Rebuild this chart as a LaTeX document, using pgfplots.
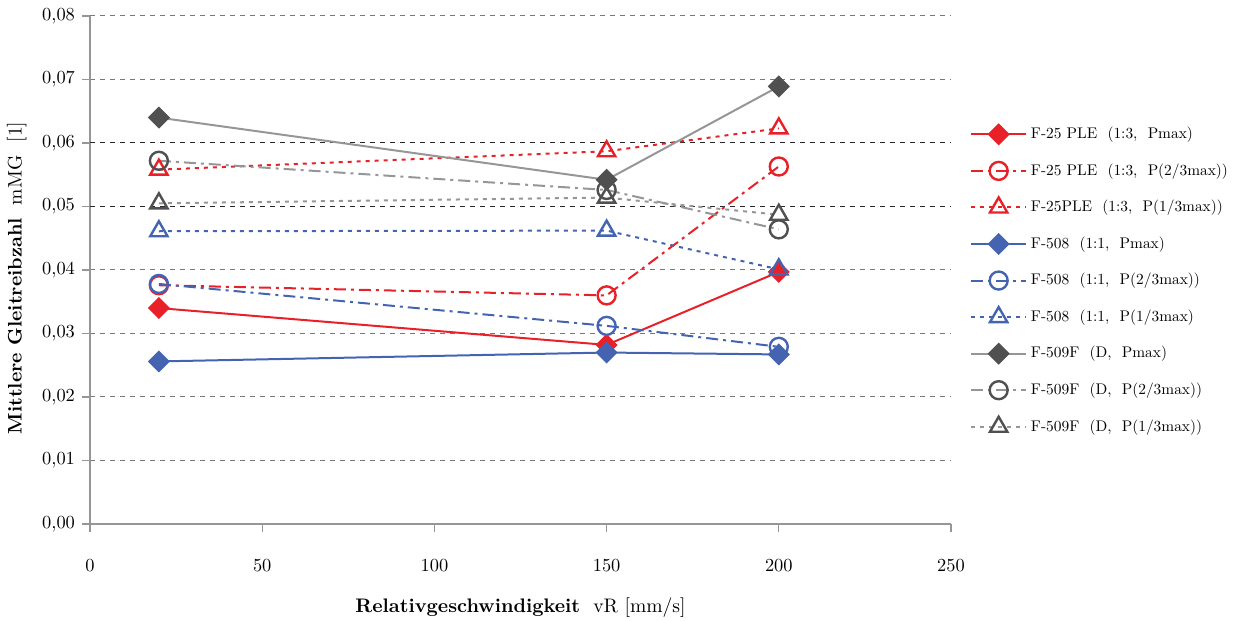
\documentclass[border=0pt]{standalone}
\usepackage{fontspec}
\setmainfont{lmroman10-regular}[Extension=.otf, BoldFont=lmroman10-bold]
\usepackage{pgfplots}
\pgfplotsset{compat=1.18}
\definecolor{cred}{RGB}{232,32,40}
\definecolor{cblue}{RGB}{68,100,178}
\definecolor{cgline}{RGB}{150,150,150}
\definecolor{cgmark}{RGB}{80,80,80}
\definecolor{cgrid}{RGB}{120,120,120}
\begin{document}
\begin{tikzpicture}
\begin{axis}[
  name=ax,
  scale only axis,
  width=430.5pt, height=254pt,
  xmin=0, xmax=250, ymin=0, ymax=0.08,
  xtick={0,50,...,250},
  ytick={0,0.01,...,0.08},
  axis x line*=bottom, axis y line*=left,
  axis line style={cgline, line width=0.6pt, -},
  tick style={cgline, line width=0.6pt},
  tick align=outside,
  major tick length=4pt,
  ymajorgrids,
  grid style={cgrid, line width=0.5pt, dash pattern=on 2.7pt off 2.3pt},
  extra y ticks={0.05,0.06},
  extra y tick labels={},
  extra y tick style={grid style={black!85, line width=0.5pt, dash pattern=on 2.7pt off 2.3pt}},
  /pgf/number format/assume math mode=true,
  ticklabel style={font=\fontsize{9.2}{10}\selectfont},
  yticklabel style={/pgf/number format/.cd, use comma, fixed, fixed zerofill, precision=2, assume math mode=true},
  xticklabel style={yshift=-10pt},
  scaled y ticks=false,
  xlabel={\textbf{Relativgeschwindigkeit}\ \ vR [mm/s]},
  ylabel={\textbf{Mittlere Gleitreibzahl}\ \ mMG\ \ [1]},
  label style={font=\fontsize{9.8}{11}\selectfont},
  xlabel style={yshift=-6pt},
  ylabel style={yshift=-7pt, xshift=-4pt},
  legend style={at={(1.022,0.79)}, anchor=north west, draw=none, fill=none,
    font=\fontsize{7.7}{9}\selectfont, row sep=7.0pt, inner sep=0pt},
  legend cell align=left,
  legend image code/.code={\draw[mark repeat=2,mark phase=2,#1] plot coordinates {(0cm,0cm)(0.48cm,0cm)(0.96cm,0cm)};},
  every axis plot/.append style={line width=1pt},
  clip=false,
]
% F-25 PLE
\addplot[cred, solid, mark=square*, mark size=3.4pt, mark options={solid, rotate=45, fill=cred}]
  coordinates {(20,0.0340) (150,0.0282) (200,0.0397)};
\addlegendentry{F-25 PLE\ \ (1:3,\ \ Pmax)}
\addplot[cred, dash pattern=on 6pt off 2.5pt on 1.5pt off 2.5pt, mark=o, mark size=4.5pt, mark options={solid, fill=white, line width=1.2pt}]
  coordinates {(20,0.0376) (150,0.0360) (200,0.0563)};
\addlegendentry{F-25 PLE\ \ (1:3,\ \ P(2/3max))}
\addplot[cred, dash pattern=on 2pt off 2.5pt, mark=triangle, mark size=5pt, mark options={solid, line width=1.2pt}]
  coordinates {(20,0.0558) (150,0.0587) (200,0.0623)};
\addlegendentry{F-25PLE\ \ (1:3,\ \ P(1/3max))}
% F-508
\addplot[cblue, solid, mark=square*, mark size=3.4pt, mark options={solid, rotate=45, fill=cblue}]
  coordinates {(20,0.0256) (150,0.0270) (200,0.0267)};
\addlegendentry{F-508\ \ (1:1,\ \ Pmax)}
\addplot[cblue, dash pattern=on 6pt off 2.5pt on 1.5pt off 2.5pt, mark=o, mark size=4.5pt, mark options={solid, fill=white, line width=1.2pt}]
  coordinates {(20,0.0378) (150,0.0312) (200,0.0279)};
\addlegendentry{F-508\ \ (1:1,\ \ P(2/3max))}
\addplot[cblue, dash pattern=on 2pt off 2.5pt, mark=triangle, mark size=5pt, mark options={solid, line width=1.2pt}]
  coordinates {(20,0.0461) (150,0.0462) (200,0.0401)};
\addlegendentry{F-508\ \ (1:1,\ \ P(1/3max)}
% F-509F
\addplot[cgline, solid, mark=square*, mark size=3.4pt, mark options={solid, rotate=45, draw=cgmark, fill=cgmark}]
  coordinates {(20,0.0640) (150,0.0542) (200,0.0689)};
\addlegendentry{F-509F\ \ (D,\ \ Pmax)}
\addplot[cgline, dash pattern=on 6pt off 2.5pt on 1.5pt off 2.5pt, mark=o, mark size=4.5pt, mark options={solid, draw=cgmark, fill=white, line width=1.2pt}]
  coordinates {(20,0.0572) (150,0.0526) (200,0.0464)};
\addlegendentry{F-509F\ \ (D,\ \ P(2/3max))}
\addplot[cgline, dash pattern=on 2pt off 2.5pt, mark=triangle, mark size=5pt, mark options={solid, draw=cgmark, line width=1.2pt}]
  coordinates {(20,0.0505) (150,0.0514) (200,0.0487)};
\addlegendentry{F-509F\ \ (D,\ \ P(1/3max))}
\end{axis}
\pgfresetboundingbox
\path[use as bounding box] ([xshift=-45pt,yshift=-48.5pt]ax.south west) rectangle ([xshift=574pt,yshift=8pt]ax.north west);
\end{tikzpicture}
\end{document}
